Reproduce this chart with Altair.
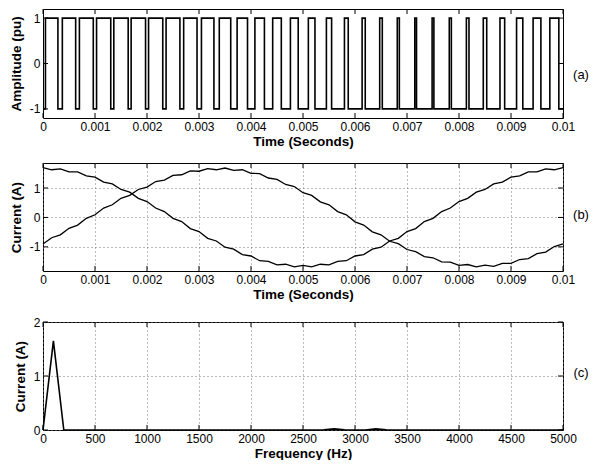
import altair as alt
import pandas as pd

# ---------------- data ----------------
# (a) PWM switching instants, milliseconds
pwm_rise_ms = [0.047, 0.372, 0.700, 1.030, 1.362, 1.695, 2.030, 2.367, 2.705, 3.047,
               3.390, 3.733, 4.075, 4.417, 4.758, 5.103, 5.450, 5.797, 6.137, 6.475,
               6.813, 7.150, 7.483, 7.813, 8.142, 8.467, 8.788, 9.107, 9.425, 9.747]
pwm_fall_ms = [0.287, 0.628, 0.967, 1.303, 1.638, 1.972, 2.303, 2.633, 2.962, 3.287,
               3.610, 3.933, 4.258, 4.583, 4.908, 5.230, 5.550, 5.870, 6.197, 6.525,
               6.853, 7.183, 7.517, 7.853, 8.192, 8.533, 8.878, 9.227, 9.575, 9.920]

# (b) currents sampled every 1/6 ms (0 .. 10 ms)
t_ms = [j / 6 for j in range(61)]
current_a = [1.69, 1.62, 1.65, 1.55, 1.55, 1.41, 1.37, 1.20, 1.14, 0.95,
             0.86, 0.65, 0.54, 0.32, 0.20, -0.03, -0.14, -0.38, -0.48, -0.71,
             -0.80, -1.01, -1.08, -1.26, -1.31, -1.47, -1.49, -1.61, -1.59, -1.68,
             -1.63, -1.68, -1.59, -1.61, -1.49, -1.47, -1.31, -1.26, -1.08, -1.01,
             -0.80, -0.71, -0.48, -0.38, -0.14, -0.03, 0.20, 0.32, 0.54, 0.65,
             0.86, 0.95, 1.14, 1.20, 1.37, 1.41, 1.55, 1.55, 1.65, 1.62, 1.69]
current_b = [-0.90, -0.69, -0.59, -0.37, -0.26, -0.03, 0.09, 0.32, 0.43, 0.65,
             0.75, 0.95, 1.03, 1.22, 1.27, 1.43, 1.45, 1.58, 1.57, 1.66,
             1.62, 1.68, 1.60, 1.62, 1.50, 1.49, 1.34, 1.29, 1.12, 1.05,
             0.84, 0.75, 0.53, 0.43, 0.20, 0.09, -0.15, -0.26, -0.49, -0.59,
             -0.81, -0.89, -1.09, -1.16, -1.33, -1.37, -1.51, -1.52, -1.63, -1.60,
             -1.68, -1.62, -1.66, -1.56, -1.56, -1.43, -1.40, -1.23, -1.18, -0.99, -0.90]

# (c) spectrum, 100 Hz bins
freq_hz = [100 * k for k in range(51)]
spec_amp = [0, 1.65, 0, 0, 0, 0, 0, 0, 0, 0,
            0, 0, 0, 0, 0, 0, 0, 0, 0, 0,
            0, 0, 0, 0, 0, 0, 0, 0.005, 0.02, 0.005,
            0, 0, 0.02, 0.005, 0, 0, 0, 0, 0, 0,
            0, 0, 0, 0, 0, 0, 0, 0, 0, 0, 0]

time_ticks = [0, 0.001, 0.002, 0.003, 0.004, 0.005, 0.006, 0.007, 0.008, 0.009, 0.01]
freq_ticks = [0, 500, 1000, 1500, 2000, 2500, 3000, 3500, 4000, 4500, 5000]
amp_ticks = [-1, 0, 1]
cur_ticks = [-1, 0, 1]
spec_ticks = [0, 1, 2]

# ---------------- tables ----------------
pts = [(0.0, -1.0)]
for r, f in zip(pwm_rise_ms, pwm_fall_ms):
    pts += [(r / 1000, -1.0), (r / 1000, 1.0), (f / 1000, 1.0), (f / 1000, -1.0)]
pts.append((0.01, -1.0))
pwm_df = pd.DataFrame({"t": [p[0] for p in pts], "v": [p[1] for p in pts],
                       "i": list(range(len(pts)))})

cur_rows = []
for j, tm in enumerate(t_ms):
    cur_rows.append({"t": tm / 1000, "c": current_a[j], "s": "a"})
    cur_rows.append({"t": tm / 1000, "c": current_b[j], "s": "b"})
cur_df = pd.DataFrame(cur_rows)
spec_df = pd.DataFrame({"f": freq_hz, "a": spec_amp})

# ---------------- styling ----------------
FONT = "Liberation Sans"
W = 520
TICK = 5
minus_fix = "replace(datum.label, '\u2212', '-')"


def xaxis(title, values, fmt, grid):
    return alt.Axis(title=title, values=values, format=fmt, grid=grid, ticks=False,
                    domain=False, labelFlush=False, labelOverlap=False, labelPadding=3,
                    titlePadding=2, gridDash=[1, 3], gridColor="#777777")


def yaxis(title, values, grid):
    return alt.Axis(title=title, values=values, format="~g", grid=grid, ticks=False,
                    domain=False, labelFlush=False, labelOverlap=False, labelPadding=3,
                    titlePadding=6, labelExpr=minus_fix,
                    gridDash=[1, 3], gridColor="#777777")


def inward_ticks(xvals, xscale, xax, yvals, yscale, yax, h):
    xdf = alt.Data(values=[{"v": v} for v in xvals])
    ydf = alt.Data(values=[{"v": v} for v in yvals])
    xenc = alt.X("v:Q", scale=xscale, axis=xax)
    yenc = alt.Y("v:Q", scale=yscale, axis=yax)
    rule = dict(color="black", strokeWidth=1)
    return [
        alt.Chart(xdf).mark_rule(**rule).encode(x=xenc, y=alt.value(0), y2=alt.value(TICK)),
        alt.Chart(xdf).mark_rule(**rule).encode(x=xenc, y=alt.value(h - TICK), y2=alt.value(h)),
        alt.Chart(ydf).mark_rule(**rule).encode(y=yenc, x=alt.value(0), x2=alt.value(TICK)),
        alt.Chart(ydf).mark_rule(**rule).encode(y=yenc, x=alt.value(W - TICK), x2=alt.value(W)),
    ]


def panel_label(txt, y):
    return alt.Chart(alt.Data(values=[{"label": txt}])).mark_text(
        font=FONT, fontSize=13, align="center", baseline="middle", color="black"
    ).encode(x=alt.value(W + 18), y=alt.value(y), text="label:N")


# ---------------- panel (a) ----------------
HA = 109
ts = alt.Scale(domain=[0, 0.01], nice=False, zero=False)
ya = alt.Scale(domain=[-1.2, 1.2], nice=False, zero=False)
xa_ax = xaxis("Time (Seconds)", time_ticks, ".4~f", False)
ya_ax = yaxis("Amplitude (pu)", amp_ticks, False)
pwm = alt.Chart(pwm_df).mark_line(color="black", strokeWidth=1.6).encode(
    x=alt.X("t:Q", scale=ts, axis=xa_ax),
    y=alt.Y("v:Q", scale=ya, axis=ya_ax),
    order=alt.Order("i:Q"),
)
panel_a = alt.layer(pwm, *inward_ticks(time_ticks, ts, xa_ax, amp_ticks, ya, ya_ax, HA),
                    panel_label("(a)", 66)).properties(width=W, height=HA)

# ---------------- panel (b) ----------------
HB = 108
yb = alt.Scale(domain=[-1.82, 1.85], nice=False, zero=False)
xb_ax = xaxis("Time (Seconds)", time_ticks, ".4~f", True)
yb_ax = yaxis("Current (A)", cur_ticks, True)
cur = alt.Chart(cur_df).mark_line(color="black", strokeWidth=1.3).encode(
    x=alt.X("t:Q", scale=ts, axis=xb_ax),
    y=alt.Y("c:Q", scale=yb, axis=yb_ax),
    detail="s:N",
)
panel_b = alt.layer(cur, *inward_ticks(time_ticks, ts, xb_ax, cur_ticks, yb, yb_ax, HB),
                    panel_label("(b)", 52)).properties(width=W, height=HB)

# ---------------- panel (c) ----------------
HC = 108
fs = alt.Scale(domain=[0, 5000], nice=False, zero=False)
yc = alt.Scale(domain=[0, 2], nice=False, zero=False)
xc_ax = xaxis("Frequency (Hz)", freq_ticks, "d", True)
yc_ax = yaxis("Current (A)", spec_ticks, True)
spec = alt.Chart(spec_df).mark_line(color="black", strokeWidth=1.6).encode(
    x=alt.X("f:Q", scale=fs, axis=xc_ax),
    y=alt.Y("a:Q", scale=yc, axis=yc_ax),
)
panel_c = alt.layer(spec, *inward_ticks(freq_ticks, fs, xc_ax, spec_ticks, yc, yc_ax, HC),
                    panel_label("(c)", 51)).properties(width=W, height=HC)

chart = alt.vconcat(panel_a, panel_b, panel_c, spacing=14).properties(
    padding={"left": 0, "top": 0, "right": 0, "bottom": 0}
).configure_view(stroke="black", strokeWidth=1).configure_axis(
    labelFont=FONT, titleFont=FONT, labelFontSize=12, titleFontSize=13.5,
    titleFontWeight="bold", labelColor="black", titleColor="black",
)

chart.save("out.html", embed_options={"renderer": "svg", "actions": False})
